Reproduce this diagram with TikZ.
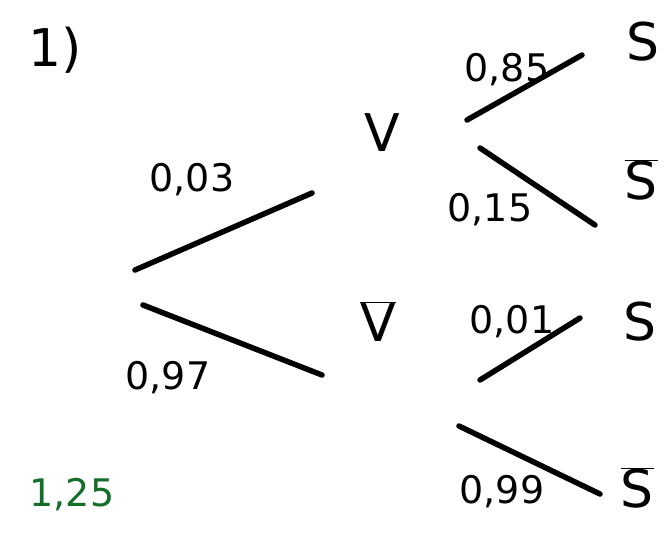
\documentclass[tikz,border=0pt]{standalone}
\usepackage{fontspec}
\setmainfont{DejaVu Sans}
\definecolor{pengreen}{RGB}{20,110,40}
\begin{document}
\begin{tikzpicture}[x=1pt,y=-1pt,
  branch/.style={line width=5.5pt,line cap=round},
  prob/.style={font=\fontsize{38}{38}\selectfont, inner sep=0pt},
  event/.style={font=\fontsize{52}{52}\selectfont, inner sep=0pt}]
\useasboundingbox (0,0) rectangle (667,549);
% title
\node[font=\fontsize{52}{52}\selectfont, inner sep=0pt] (title) at (55,50) {1)};
% first level
\coordinate (a1) at (135,270); \coordinate (a2) at (312,193);
\coordinate (b1) at (143,305); \coordinate (b2) at (322,375);
\draw[branch] (a1) -- (a2);
\draw[branch] (b1) -- (b2);
\node[prob] (p03) at (192,180) {0,03};
\node[prob] (p97) at (168,378) {0,97};
\node[event] (V) at (382,133) {V};
\node[event] (Vb) at (378,322) {$\overline{\mbox{V}}$};
% second level from V
\coordinate (c1) at (467,120); \coordinate (c2) at (582,55);
\coordinate (d1) at (480,148); \coordinate (d2) at (595,225);
\draw[branch] (c1) -- (c2);
\draw[branch] (d1) -- (d2);
\node[prob] (p85) at (507,70) {0,85};
\node[prob] (p15) at (490,210) {0,15};
\node[event] (S1) at (643,42) {S};
\node[event] (S1b) at (641,180) {$\overline{\mbox{S}}$};
% second level from Vbar
\coordinate (e1) at (480,380); \coordinate (e2) at (580,318);
\coordinate (f1) at (459,426); \coordinate (f2) at (600,494);
\draw[branch] (e1) -- (e2);
\draw[branch] (f1) -- (f2);
\node[prob] (p01) at (512,322) {0,01};
\node[prob] (p99) at (502,492) {0,99};
\node[event] (S2) at (640,322) {S};
\node[event] (S2b) at (637,488) {$\overline{\mbox{S}}$};
% green note
\node[prob, text=pengreen] (note) at (72,495) {1,25};
\end{tikzpicture}
\end{document}
